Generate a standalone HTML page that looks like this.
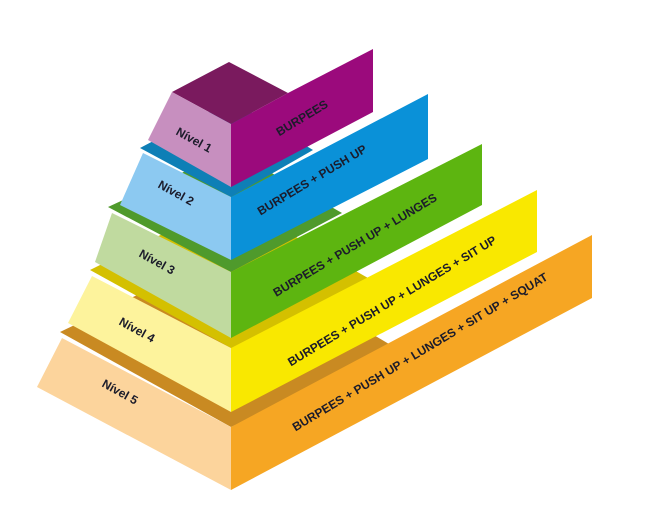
<!DOCTYPE html>
<html><head><meta charset="utf-8"><style>
html,body{margin:0;padding:0;background:#fff;}
svg{display:block;}
text{font-family:"Liberation Sans",sans-serif;font-weight:bold;fill:#1b1b2a;}
</style></head><body>
<svg width="645" height="505" viewBox="0 0 645 505" xmlns="http://www.w3.org/2000/svg">
<!-- Level 5 -->
<polygon points="60,332 231,250 399,350 231,427" fill="#c98a22"/>
<polygon points="62,338 231,427 231,490 37,387" fill="#fcd49c"/>
<polygon points="231,427 592,235 592,298 231,490" fill="#f6a623"/>
<!-- Level 4 -->
<polygon points="90,270 231,200 368,278 231,348" fill="#d4c000"/>
<polygon points="92,276 231,348 231,412 68,323" fill="#fdf39c"/>
<polygon points="231,348 537,190 537,252 231,412" fill="#f9e800"/>
<!-- Level 3 -->
<polygon points="108,207 231,150 342,213 231,272" fill="#4f9a2c"/>
<polygon points="112,213 231,272 231,338 95,262" fill="#c0da9f"/>
<polygon points="231,272 482,144 482,205 231,338" fill="#5db510"/>
<!-- Level 2 -->
<polygon points="140,148 231,100 313,150 231,197" fill="#0e7fb6"/>
<polygon points="143,153 231,197 231,260 120,205" fill="#8cc9f1"/>
<polygon points="231,197 428,94 428,159 231,260" fill="#0a91d8"/>
<!-- Level 1 -->
<polygon points="172,92 229,62 288,93 231,124" fill="#7a1a5e"/>
<polygon points="172,92 231,124 231,187 148,140" fill="#c78fbf"/>
<polygon points="231,124 288,93 373,49 373,112 231,187" fill="#9b0a7c"/>
<!-- Labels left -->
<text x="194" y="144" font-size="12" text-anchor="middle" transform="rotate(29 194 140)">Nível 1</text>
<text x="176" y="197" font-size="12" text-anchor="middle" transform="rotate(29 176 193)">Nível 2</text>
<text x="157" y="266" font-size="12" text-anchor="middle" transform="rotate(29 157 262)">Nível 3</text>
<text x="137" y="334" font-size="12" text-anchor="middle" transform="rotate(29 137 330)">Nível 4</text>
<text x="120" y="396" font-size="12" text-anchor="middle" transform="rotate(29 120 392)">Nível 5</text>
<!-- Labels right -->
<text x="302" y="122" font-size="12" text-anchor="middle" transform="rotate(-31 302 118)">BURPEES</text>
<text x="312" y="184" font-size="12" text-anchor="middle" transform="rotate(-31 312 180)">BURPEES + PUSH UP</text>
<text x="355" y="249" font-size="12" text-anchor="middle" transform="rotate(-31 355 245)">BURPEES + PUSH UP + LUNGES</text>
<text x="392" y="305" font-size="12" text-anchor="middle" transform="rotate(-31 392 301)">BURPEES + PUSH UP + LUNGES + SIT UP</text>
<text x="420" y="356" font-size="12" text-anchor="middle" transform="rotate(-31 420 352)">BURPEES + PUSH UP + LUNGES + SIT UP + SQUAT</text>
</svg>
</body></html>
